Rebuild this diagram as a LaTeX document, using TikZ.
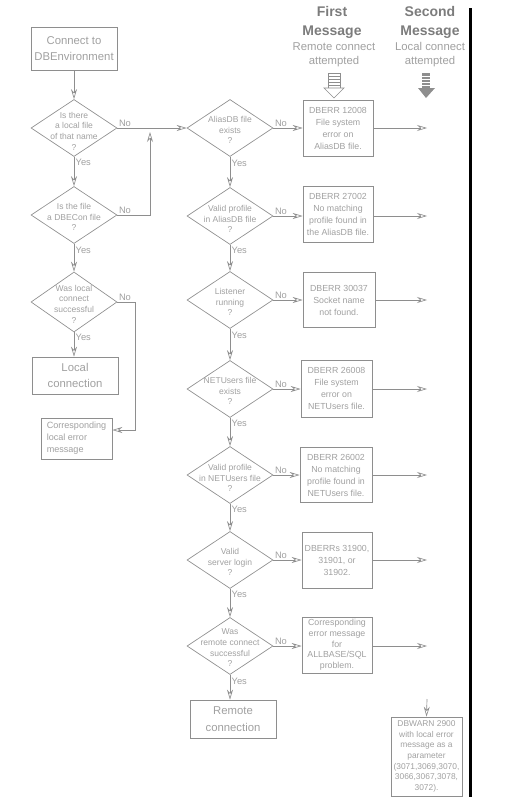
\documentclass[tikz,border=0pt]{standalone}
\usepackage{fontspec}
\setmainfont{Liberation Sans}
\usepackage{tikz}
\usetikzlibrary{arrows.meta,positioning,shapes.geometric}
\definecolor{plotline}{HTML}{8E8E8E}
\definecolor{plotink}{HTML}{A0A0A0}
\definecolor{headink}{HTML}{7C7C7C}
\def\pxu{0.75pt}
\tikzset{
  % ---- blocks ---------------------------------------------------------
  pbox/.style={
    draw=plotline, line width=0.5pt, inner sep=0pt, align=center,
    text=plotink, font=\fontsize{6.6}{9}\selectfont,
    minimum width=70*\pxu, minimum height=56*\pxu},
  pbig/.style={pbox, font=\fontsize{8.5}{12.5}\selectfont,
    minimum width=86*\pxu, minimum height=38*\pxu},
  pdec/.style={
    diamond, draw=plotline, line width=0.5pt, inner sep=0pt,
    minimum width=86*\pxu, minimum height=57*\pxu},
  pdtext/.style={text=plotink, align=center, inner sep=0pt,
    font=\fontsize{6.4}{8}\selectfont},
  plbl/.style={text=plotink, font=\fontsize{7}{8}\selectfont, inner sep=1pt},
  phead/.style={text=headink, align=center,
    font=\bfseries\fontsize{10.5}{14.25}\selectfont},
  psub/.style={text=plotink, align=center,
    font=\fontsize{8.5}{10.5}\selectfont},
  % ---- connections ----------------------------------------------------
  pflow/.style={
    -{Stealth[open,length=7.5pt,width=4.5pt]}, draw=plotline, line width=0.5pt},
}

\begin{document}
\begin{tikzpicture}[x=\pxu, y=-\pxu]
\useasboundingbox (0,0) rectangle (516,803);

% ---- column headers --------------------------------------------------
\node[phead] (h1) at (332,22.5) {First\\Message};
\node[psub]  (s1) at (334,55) {Remote connect\\attempted};
\node[phead] (h2) at (430,22.5) {Second\\Message};
\node[psub]  (s2) at (430,55) {Local connect\\attempted};

% striped arrows under the headers
\draw[plotline, line width=0.5pt] (328,73) rectangle (340,88);
\foreach \yy in {76,79,82,85}{
  \draw[plotline, line width=0.4pt] (328,\yy) -- (340,\yy);
}
\draw[plotline, line width=0.5pt, fill=white] (324,88) -- (344,88) -- (334,98) -- cycle;
\fill[plotline] (422,73) rectangle (430,88);
\foreach \yy in {76,79,82,85}{
  \draw[white, line width=0.4pt] (422,\yy) -- (430,\yy);
}
\fill[plotline] (418,88) -- (435,88) -- (426,98) -- cycle;

% ---- separator -------------------------------------------------------
\draw[black, line width=2.25pt] (470,8) -- (470,797);

% ---- local branch ----------------------------------------------------
\node[pbig, minimum height=43*\pxu] (start) at (74,48.5) {Connect to\\DBEnvironment};
\node[pdec, label={[pdtext, yshift=-3*\pxu]center:{Is there\\a local file\\of that name\\?}}] (d1) at (74,128) {};
\node[pdec, label={[pdtext, yshift=-2*\pxu]center:{Is the file\\a DBECon file\\?}}] (d2) at (74,215) {};
\node[pdec, minimum height=60*\pxu, label={[pdtext, yshift=-2*\pxu]center:{Was local\\connect\\successful\\?}}] (d3) at (74,302) {};
\node[pbig, minimum height=37*\pxu] (local) at (75,375.5) {Local\\connection};
\node[pbox, font=\fontsize{6.8}{9}\selectfont, align=left, minimum width=71*\pxu, minimum height=41*\pxu] (lerr) at (76.5,438.5) {Corresponding\\local error\\message};

\coordinate (join) at (150,132);
\coordinate (bend) at (135,430);

\draw[pflow] (start) -- (d1);
\draw[pflow] (d1) -- (d2) node[plbl, pos=0.2, right] {Yes};
\draw[pflow] (d2) -- (d3) node[plbl, pos=0.25, right] {Yes};
\draw[pflow] (d3) -- (local.north -| d3) node[plbl, pos=0.2, right] {Yes};
\draw[pflow] (d2.east) -| (join) node[plbl, pos=0, anchor=south west] {No};
\draw[pflow] (d3.east) -| (bend) node[plbl, pos=0, anchor=south west] {No}
  -- (lerr.east |- bend);

% ---- remote branch ---------------------------------------------------
\node[pdec, label={[pdtext, yshift=-2*\pxu]center:{AliasDB file\\exists\\?}}] (a1) at (230,128) {};
\node[pdec, label={[pdtext, yshift=-3*\pxu]center:{Valid profile\\in AliasDB file\\?}}] (a2) at (230,216) {};
\node[pdec, label={[pdtext, yshift=-2*\pxu]center:{Listener\\running\\?}}] (lis) at (230,300) {};
\node[pdec, label={[pdtext, yshift=-2*\pxu]center:{NETUsers file\\exists\\?}}] (nu1) at (230,389) {};
\node[pdec, label={[pdtext, yshift=-3*\pxu]center:{Valid profile\\in NETUsers file\\?}}] (nu2) at (230,475) {};
\node[pdec, label={[pdtext, yshift=-2*\pxu]center:{Valid\\server login\\?}}] (srv) at (230,560) {};
\node[pdec, label={[pdtext, yshift=-2*\pxu]center:{Was\\remote connect\\successful\\?}}] (rem) at (230,646) {};
\node[pbig] (remote) at (233,719) {Remote\\connection};

\draw[pflow] (d1.east) -- (a1.west) node[plbl, pos=0, anchor=south west] {No};
\foreach \up/\dn in {a1/a2, a2/lis, lis/nu1, nu1/nu2, nu2/srv, srv/rem}{
  \draw[pflow] (\up) -- (\dn) node[plbl, pos=0.2, right] {Yes};
}
\draw[pflow] (rem) -- (rem.south |- remote.north) node[plbl, pos=0.25, right] {Yes};

% ---- first message column --------------------------------------------
\node[pbox] (e1) at (338,128) {DBERR 12008\\File system\\error on\\AliasDB file.};
\node[pbox] (e2) at (338,214) {DBERR 27002\\No matching\\profile found in\\the AliasDB file.};
\node[pbox, minimum width=72*\pxu, minimum height=55*\pxu] (e3) at (339,300) {DBERR 30037\\Socket name\\not found.};
\node[pbox, minimum width=71*\pxu, minimum height=57*\pxu] (e4) at (336.5,388.5) {DBERR 26008\\File system\\error on\\NETUsers file.};
\node[pbox, minimum width=72*\pxu, minimum height=55*\pxu] (e5) at (336,475) {DBERR 26002\\No matching\\profile found in\\NETUsers file.};
\node[pbox] (e6) at (337,560) {DBERRs 31900,\\31901, or\\31902.};
\node[pbox, font=\fontsize{6.6}{8}\selectfont] (e7) at (337,645) {Corresponding\\error message\\for\\ALLBASE/SQL\\problem.};

\coordinate (rcol) at (427,0);
\foreach \dec/\err in {a1/e1, a2/e2, lis/e3, nu1/e4, nu2/e5, srv/e6, rem/e7}{
  \draw[pflow] (\dec.east) -- (\dec.east -| \err.west)
    node[plbl, pos=0, anchor=south west] {No};
  \draw[pflow] (\err.east |- \dec.east) -- (rcol |- \dec.east);
}

% ---- second message column -------------------------------------------
\node[pbox, font=\fontsize{6.3}{8}\selectfont, minimum width=71*\pxu, minimum height=79*\pxu] (warn) at (426.5,756.5)
  {DBWARN 2900\\with local error\\message as a\\parameter\\(3071,3069,3070,\\3066,3067,3078,\\3072).};
\coordinate (wtop) at (427,699);
\draw[pflow] (wtop) -- (warn.north);

\end{tikzpicture}
\end{document}
